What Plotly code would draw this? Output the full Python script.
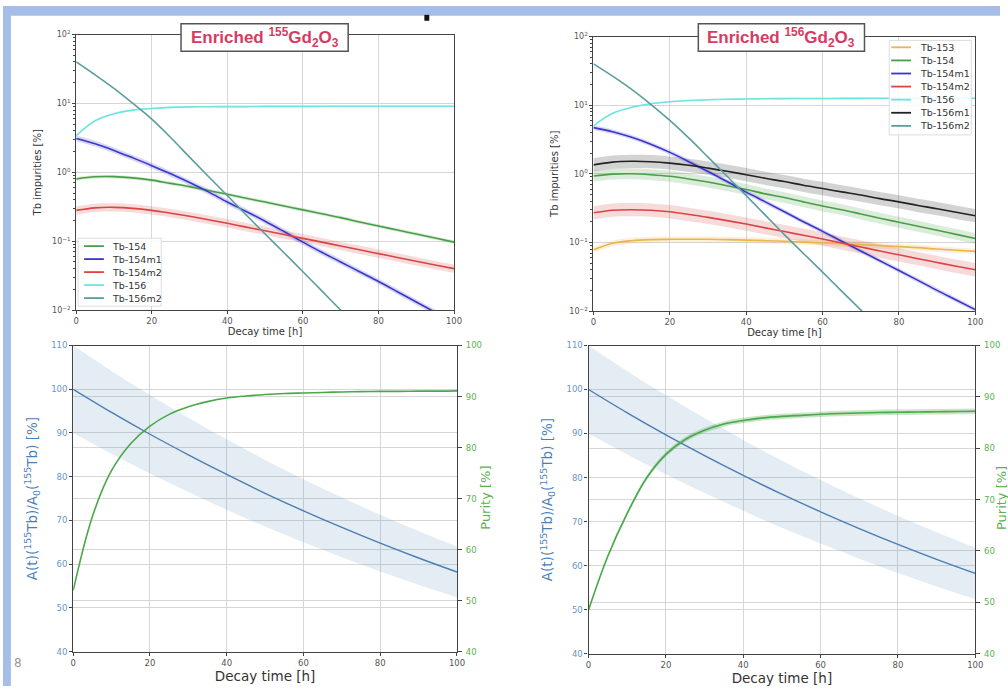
import plotly.graph_objects as go

W, H = 1008, 691

# ---------------- data ----------------
t = [0, 5, 10, 15, 20, 25, 30, 35, 40, 45, 50, 55, 60, 65, 70, 75, 80, 85, 90, 95, 100]
t_act = [0, 10, 20, 30, 40, 50, 60, 70, 80, 90, 100]

# Enriched 155Gd2O3 - Tb impurities [%]
names_155 = ["Tb-154", "Tb-154m1", "Tb-154m2", "Tb-156", "Tb-156m2"]
tb154_155 = [0.80, 0.86, 0.865, 0.83, 0.77, 0.69, 0.62, 0.545, 0.48, 0.42, 0.37, 0.325, 0.285, 0.25, 0.22, 0.19, 0.166, 0.145, 0.127, 0.111, 0.097]
tb154m1_155 = [3.1, 2.6, 2.08, 1.62, 1.25, 0.95, 0.71, 0.52, 0.37, 0.27, 0.195, 0.138, 0.097, 0.069, 0.05, 0.036, 0.026, 0.0185, 0.0131, 0.0093, 0.0066]
tb154m2_155 = [0.28, 0.305, 0.31, 0.30, 0.28, 0.255, 0.23, 0.205, 0.182, 0.16, 0.142, 0.125, 0.11, 0.097, 0.085, 0.075, 0.066, 0.058, 0.051, 0.045, 0.040]
tb156_155 = [3.4, 5.6, 7.1, 8.0, 8.45, 8.75, 8.9, 8.95, 9.0, 9.0, 9.05, 9.05, 9.05, 9.1, 9.1, 9.1, 9.1, 9.1, 9.1, 9.1, 9.1]
tb156m2_155 = [40, 26, 16.5, 10, 5.9, 3.2, 1.66, 0.87, 0.46, 0.24, 0.127, 0.068, 0.036, 0.019, 0.01, 0.0053, 0.0028, 0.0015, 0.0008, 0.0004, 0.0002]
unc_155 = [0.06, 0.10, 0.15, 0.03, 0.0]

# Enriched 156Gd2O3 - Tb impurities [%]
names_156 = ["Tb-153", "Tb-154", "Tb-154m1", "Tb-154m2", "Tb-156", "Tb-156m1", "Tb-156m2"]
tb153_156 = [0.078, 0.097, 0.106, 0.110, 0.111, 0.111, 0.111, 0.110, 0.108, 0.106, 0.104, 0.101, 0.099, 0.096, 0.093, 0.090, 0.087, 0.084, 0.080, 0.077, 0.074]
tb154_156 = [0.93, 0.99, 1.0, 0.97, 0.92, 0.84, 0.76, 0.67, 0.59, 0.51, 0.45, 0.39, 0.34, 0.30, 0.26, 0.225, 0.197, 0.172, 0.15, 0.131, 0.114]
tb154m1_156 = [4.7, 4.1, 3.4, 2.7, 2.05, 1.5, 1.08, 0.77, 0.54, 0.39, 0.28, 0.20, 0.145, 0.104, 0.075, 0.054, 0.039, 0.028, 0.020, 0.0145, 0.0105]
tb154m2_156 = [0.27, 0.295, 0.30, 0.295, 0.28, 0.255, 0.232, 0.208, 0.185, 0.163, 0.144, 0.127, 0.112, 0.098, 0.086, 0.075, 0.066, 0.058, 0.051, 0.045, 0.040]
tb156_156 = [5.0, 7.6, 9.3, 10.5, 11.2, 11.7, 12.0, 12.2, 12.3, 12.4, 12.45, 12.5, 12.5, 12.55, 12.55, 12.6, 12.6, 12.6, 12.6, 12.6, 12.6]
tb156m1_156 = [1.35, 1.48, 1.52, 1.5, 1.43, 1.33, 1.21, 1.09, 0.97, 0.86, 0.77, 0.68, 0.61, 0.545, 0.49, 0.435, 0.39, 0.345, 0.31, 0.275, 0.245]
tb156m2_156 = [40, 26.5, 17, 10.3, 6.0, 3.3, 1.75, 0.92, 0.48, 0.25, 0.13, 0.069, 0.037, 0.0195, 0.0104, 0.0055, 0.0029, 0.0015, 0.0008, 0.0004, 0.0002]
unc_156 = [0.10, 0.20, 0.08, 0.25, 0.03, 0.25, 0.0]

# Activity of Tb-155 relative to A0 [%] (left axes) and purity [%] (right axes)
activity = [100, 94.7, 89.7, 85.0, 80.5, 76.2, 72.2, 68.4, 64.8, 61.4, 58.2]
activity_unc = 0.10
purity_155 = [52, 66.5, 75.5, 80.8, 84.2, 86.5, 88.0, 89.0, 89.7, 90.1, 90.4, 90.6, 90.7, 90.8, 90.9, 90.95, 91.0, 91.0, 91.05, 91.05, 91.1]
purity_156 = [48.5, 59, 67.3, 74.2, 78.8, 81.7, 83.5, 84.7, 85.4, 85.9, 86.2, 86.4, 86.6, 86.75, 86.85, 86.95, 87.0, 87.05, 87.1, 87.15, 87.2]
purity_unc_156 = 0.006

colors = {
    "Tb-153": "#eab54a", "Tb-154": "#4a9e48", "Tb-154m1": "#3a36cc", "Tb-154m2": "#d94545",
    "Tb-156": "#6fe4e2", "Tb-156m1": "#222222", "Tb-156m2": "#5a9e9e",
}
act_color = "#4a7db3"
pur_color = "#4aa84a"


def rgba(hexc, a):
    h = hexc.lstrip("#")
    return "rgba(%d,%d,%d,%.2f)" % (int(h[0:2], 16), int(h[2:4], 16), int(h[4:6], 16), a)


def px(x):
    return x / W


def py(y):
    return 1 - y / H


fig = go.Figure()


def add_band(x, lo, hi, color, xa, ya, a):
    fig.add_trace(go.Scatter(x=x, y=lo, mode="lines", line=dict(width=0, shape="spline"),
                             xaxis=xa, yaxis=ya, showlegend=False, hoverinfo="skip"))
    fig.add_trace(go.Scatter(x=x, y=hi, mode="lines", line=dict(width=0, shape="spline"),
                             fill="tonexty", fillcolor=rgba(color, a),
                             xaxis=xa, yaxis=ya, showlegend=False, hoverinfo="skip"))


def band_log(x, y, u, color, xa, ya, a=0.2):
    add_band(x, [v / (1 + u) for v in y], [v * (1 + u) for v in y], color, xa, ya, a)


def band_lin(x, y, u, color, xa, ya, a):
    add_band(x, [v * (1 - u) for v in y], [v * (1 + u) for v in y], color, xa, ya, a)


series_155 = [tb154_155, tb154m1_155, tb154m2_155, tb156_155, tb156m2_155]
series_156 = [tb153_156, tb154_156, tb154m1_156, tb154m2_156, tb156_156, tb156m1_156, tb156m2_156]

for n, s, u in zip(names_155, series_155, unc_155):
    if u > 0:
        band_log(t, s, u, colors[n], "x", "y")
for n, s in zip(names_155, series_155):
    fig.add_trace(go.Scatter(x=t, y=s, name=n, mode="lines", line=dict(color=colors[n], width=1.6, shape="spline"),
                             xaxis="x", yaxis="y", showlegend=False))

for n, s, u in zip(names_156, series_156, unc_156):
    if u > 0:
        band_log(t, s, u, colors[n], "x2", "y2")
for n, s in zip(names_156, series_156):
    fig.add_trace(go.Scatter(x=t, y=s, name=n, mode="lines", line=dict(color=colors[n], width=1.6, shape="spline"),
                             xaxis="x2", yaxis="y2", showlegend=False))

# bottom-left
band_lin(t_act, activity, activity_unc, act_color, "x3", "y3", 0.15)
fig.add_trace(go.Scatter(x=t_act, y=activity, mode="lines", name="A(t)", line=dict(color=act_color, width=1.4, shape="spline"),
                         xaxis="x3", yaxis="y3", showlegend=False))
fig.add_trace(go.Scatter(x=t, y=purity_155, mode="lines", name="Purity", line=dict(color=pur_color, width=1.6, shape="spline"),
                         xaxis="x3", yaxis="y4", showlegend=False))

# bottom-right
band_lin(t_act, activity, activity_unc, act_color, "x4", "y5", 0.15)
fig.add_trace(go.Scatter(x=t_act, y=activity, mode="lines", name="A(t)", line=dict(color=act_color, width=1.4, shape="spline"),
                         xaxis="x4", yaxis="y5", showlegend=False))
band_lin(t, purity_156, purity_unc_156, pur_color, "x4", "y6", 0.3)
fig.add_trace(go.Scatter(x=t, y=purity_156, mode="lines", name="Purity", line=dict(color=pur_color, width=1.6, shape="spline"),
                         xaxis="x4", yaxis="y6", showlegend=False))

# ---------------- axes ----------------
FONT = "DejaVu Sans"
grid = "#d6d6d6"
spine = "#444444"


def xax(dom, anchor, title, tsize):
    return dict(domain=dom, anchor=anchor, range=[0, 100], tickvals=[0, 20, 40, 60, 80, 100],
                showgrid=True, gridcolor=grid, gridwidth=1, zeroline=False,
                showline=True, linecolor=spine, linewidth=1.2, mirror=True,
                ticks="outside", ticklen=3, tickcolor=spine, tickfont=dict(size=8.5, color="#555", family=FONT),
                title=dict(text=title, font=dict(size=tsize, color="#333", family=FONT), standoff=2))


log_vals = [0.01, 0.1, 1, 10, 100]
log_text = ["10<sup>\u22122</sup>", "10<sup>\u22121</sup>", "10<sup>0</sup>", "10<sup>1</sup>", "10<sup>2</sup>"]
minor_vals = [m * 10 ** e for e in (-2, -1, 0, 1) for m in range(2, 10)]


def ylog(dom, anchor):
    return dict(domain=dom, anchor=anchor, type="log", range=[-2, 2], tickvals=log_vals, ticktext=log_text,
                showgrid=True, gridcolor=grid, zeroline=False,
                showline=True, linecolor=spine, linewidth=1.2, mirror=True,
                ticks="outside", ticklen=3, tickcolor=spine, tickfont=dict(size=8, color="#555", family=FONT),
                minor=dict(tickvals=minor_vals, ticks="outside", ticklen=2, tickcolor=spine, showgrid=False),
                title=dict(text="Tb impurities [%]", font=dict(size=10, color="#333", family=FONT), standoff=8))


ytitle_act = "A(t)(<sup>155</sup>Tb)/A<sub>0</sub>(<sup>155</sup>Tb) [%]"


def yleft(dom, anchor):
    return dict(domain=dom, anchor=anchor, range=[40, 110], dtick=10, tick0=40,
                showgrid=True, gridcolor=grid, zeroline=False,
                showline=True, linecolor=spine, linewidth=1.2,
                ticks="outside", ticklen=3, tickcolor=spine, tickfont=dict(size=8.5, color="#6a96c6", family=FONT),
                title=dict(text=ytitle_act, font=dict(size=13.5, color="#4a80ba", family=FONT), standoff=10))


def yright(over, anchor):
    return dict(overlaying=over, anchor=anchor, side="right", range=[40, 100], dtick=10, tick0=40,
                showgrid=True, gridcolor=grid, zeroline=False,
                showline=True, linecolor=spine, linewidth=1.2,
                ticks="outside", ticklen=4, tickcolor=spine, ticklabelstandoff=2,
                tickfont=dict(size=8.5, color="#5cb050", family=FONT))


fig.update_layout(
    width=W, height=H, margin=dict(l=0, r=0, t=0, b=0),
    paper_bgcolor="white", plot_bgcolor="white", showlegend=False,
    font=dict(family=FONT),
    xaxis=xax([px(74), px(456)], "y", "Decay time [h]", 10),
    yaxis=ylog([py(309), py(29)], "x"),
    xaxis2=xax([px(597), px(983)], "y2", "Decay time [h]", 10),
    yaxis2=ylog([py(310), py(31)], "x2"),
    xaxis3=xax([px(71), px(459)], "y3", "Decay time [h]", 13.5),
    yaxis3=yleft([py(656), py(345)], "x3"),
    yaxis4=yright("y3", "x3"),
    xaxis4=xax([px(592), px(983)], "y5", "Decay time [h]", 13.5),
    yaxis5=yleft([py(658), py(345)], "x4"),
    yaxis6=yright("y5", "x4"),
)

shapes = []
annotations = []

# slide frame strips
shapes.append(dict(type="rect", xref="paper", yref="paper", x0=0, x1=1, y0=py(10), y1=1,
                   fillcolor="#a4bee8", line=dict(width=0), layer="above"))
shapes.append(dict(type="rect", xref="paper", yref="paper", x0=0, x1=px(8), y0=0, y1=1,
                   fillcolor="#a4bee8", line=dict(width=0), layer="above"))
shapes.append(dict(type="rect", xref="paper", yref="paper", x0=px(426), x1=px(431), y0=py(15), y1=py(9),
                   fillcolor="#111", line=dict(width=0), layer="above"))

# right-axis titles (Purity)
for cx, cy in ((487, 500), (1009, 500)):
    annotations.append(dict(xref="paper", yref="paper", x=px(cx), y=py(cy), xanchor="center", yanchor="middle",
                            text="Purity [%]", textangle=-90, showarrow=False,
                            font=dict(size=13, color="#5cb050", family=FONT)))

# title boxes
for x0, x1, iso in ((180, 349, "155"), (703, 871, "156")):
    shapes.append(dict(type="rect", xref="paper", yref="paper", x0=px(x0), x1=px(x1), y0=py(46), y1=py(18),
                       fillcolor="white", line=dict(color="#555", width=1.5), layer="above"))
    annotations.append(dict(xref="paper", yref="paper", x=px((x0 + x1) / 2), y=py(32), xanchor="center", yanchor="middle",
                            text="<b>Enriched <sup>%s</sup>Gd<sub>2</sub>O<sub>3</sub></b>" % iso, showarrow=False,
                            font=dict(size=17, color="#d83a62", family="Liberation Sans")))


# manual legends
def legend(names, box, x_line0, x_line1, x_text, y_first, step):
    x0, y0, x1, y1 = box
    shapes.append(dict(type="rect", xref="paper", yref="paper", x0=px(x0), x1=px(x1), y0=py(y1), y1=py(y0),
                       fillcolor="rgba(255,255,255,0.85)", line=dict(color="#dddddd", width=1), layer="above"))
    for i, n in enumerate(names):
        yy = y_first + i * step
        shapes.append(dict(type="line", xref="paper", yref="paper", x0=px(x_line0), x1=px(x_line1), y0=py(yy), y1=py(yy),
                           line=dict(color=colors[n], width=1.8), layer="above"))
        annotations.append(dict(xref="paper", yref="paper", x=px(x_text), y=py(yy), xanchor="left", yanchor="middle",
                                text=n, showarrow=False, font=dict(size=9.5, color="#333", family=FONT)))


legend(names_155, (76, 236, 160, 305), 82, 102, 108, 244, 13.2)
legend(names_156, (896, 35, 979, 131), 898, 918, 925, 42, 13.3)

annotations.append(dict(xref="paper", yref="paper", x=px(9), y=py(668), xanchor="left", yanchor="middle",
                        text="8", showarrow=False, font=dict(size=12, color="#999", family=FONT)))

fig.update_layout(shapes=shapes, annotations=annotations)
fig.write_html("out.html")
